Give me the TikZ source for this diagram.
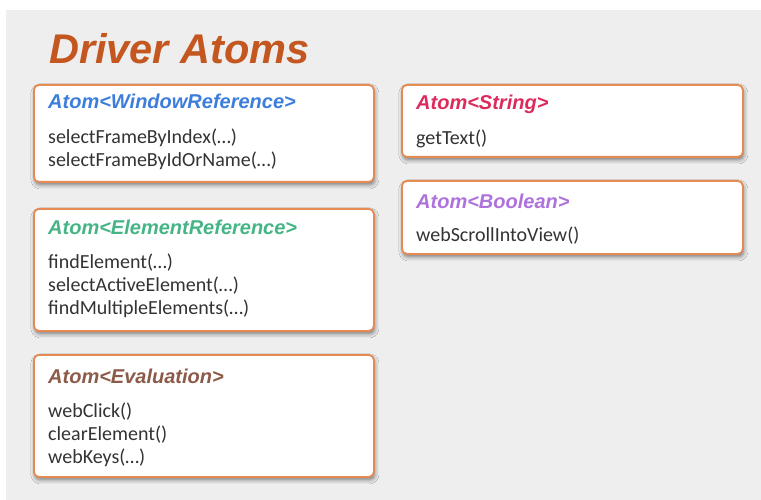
\documentclass[tikz,border=0pt]{standalone}
\usepackage{fontspec}
\setmainfont{Liberation Sans}
\newfontfamily\bodyfont{Carlito}
\usetikzlibrary{shadows.blur}
\definecolor{bggray}{HTML}{EEEEEE}
\definecolor{boxorange}{HTML}{E58A52}
\definecolor{titleorange}{HTML}{C4571F}
\definecolor{hblue}{HTML}{3D7DDB}
\definecolor{hgreen}{HTML}{46B585}
\definecolor{hbrown}{HTML}{8C5A48}
\definecolor{hpink}{HTML}{DC2A5C}
\definecolor{hpurple}{HTML}{AE72DC}
\definecolor{bodytext}{HTML}{333333}
\tikzset{
  atombox/.style={draw=boxorange, line width=1.8pt, fill=white, rounded corners=5pt,
    anchor=north west, minimum width=340pt, inner sep=0pt,
    blur shadow={shadow xshift=1pt, shadow yshift=-3pt, shadow blur radius=4pt, shadow opacity=50}},
  atomhead/.style={anchor=base west, inner sep=0pt, font=\fontsize{20}{23}\selectfont\bfseries\itshape},
  atombody/.style={anchor=base west, inner sep=0pt, text=bodytext,
    font=\fontsize{20}{23}\selectfont\bodyfont},
}
\begin{document}
\begin{tikzpicture}[x=1pt,y=-1pt]
\useasboundingbox (0,0) rectangle (761,500);
\fill[bggray] (6,10) rectangle (761,500);
\node[anchor=base west, inner sep=0pt, text=titleorange, font=\fontsize{41.5}{46}\selectfont\bfseries\itshape] (title) at (49,64) {Driver Atoms};

\node[atombox, minimum height=97pt] (b1) at (33,84) {};
\node[atomhead, text=hblue] (h1) at (48,109) {Atom<WindowReference>};
\node[atombody] (t1a) at (48,144) {selectFrameByIndex(…)};
\node[atombody] (t1b) at (48,167) {selectFrameByIdOrName(…)};

\node[atombox, minimum height=122pt] (b2) at (33,208) {};
\node[atomhead, text=hgreen] (h2) at (48,234) {Atom<ElementReference>};
\node[atombody] (t2a) at (48,268) {findElement(…)};
\node[atombody] (t2b) at (48,291) {selectActiveElement(…)};
\node[atombody] (t2c) at (48,314) {findMultipleElements(…)};

\node[atombox, minimum height=122pt] (b3) at (33,354) {};
\node[atomhead, text=hbrown] (h3) at (48,383) {Atom<Evaluation>};
\node[atombody] (t3a) at (48,417) {webClick()};
\node[atombody] (t3b) at (48,440) {clearElement()};
\node[atombody] (t3c) at (48,463) {webKeys(…)};

\node[atombox, minimum height=72pt, minimum width=341pt] (b4) at (401,84) {};
\node[atomhead, text=hpink] (h4) at (416,110) {Atom<String>};
\node[atombody] (t4) at (416,145) {getText()};

\node[atombox, minimum height=73pt, minimum width=341pt] (b5) at (401,180) {};
\node[atomhead, text=hpurple] (h5) at (416,208) {Atom<Boolean>};
\node[atombody] (t5) at (416,241) {webScrollIntoView()};
\end{tikzpicture}
\end{document}
